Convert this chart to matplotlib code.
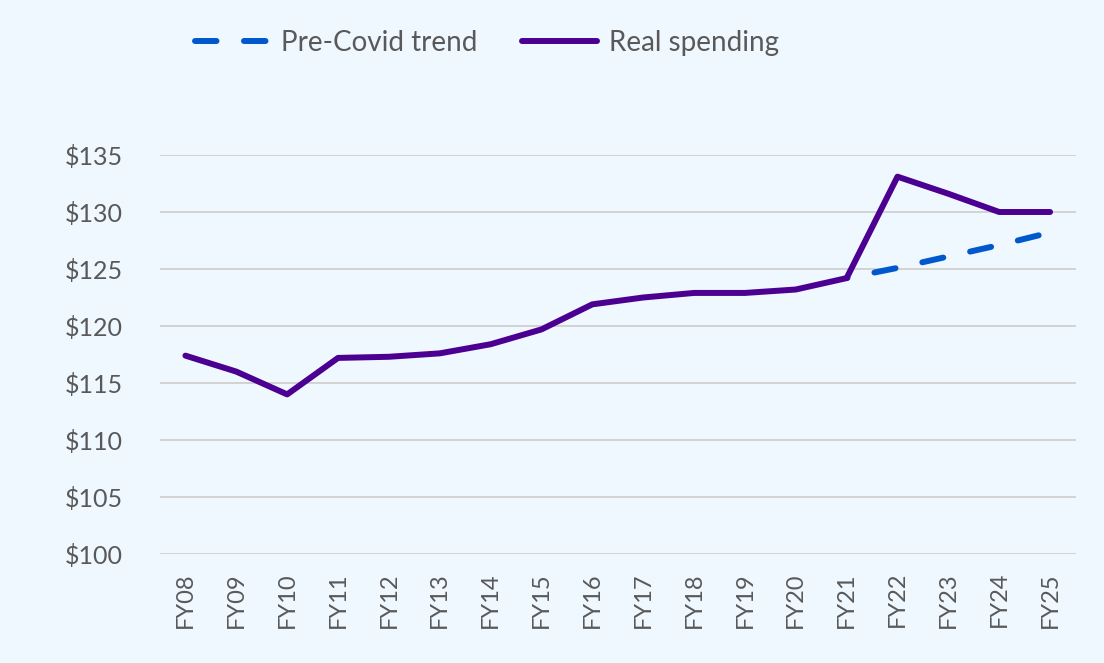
import matplotlib
matplotlib.use("Agg")
import matplotlib.pyplot as plt
from matplotlib.lines import Line2D

categories = ["FY08", "FY09", "FY10", "FY11", "FY12", "FY13", "FY14", "FY15", "FY16",
              "FY17", "FY18", "FY19", "FY20", "FY21", "FY22", "FY23", "FY24", "FY25"]
real_spending = [117.4, 116.0, 114.0, 117.2, 117.3, 117.6, 118.4, 119.7, 121.9,
                 122.5, 122.9, 122.9, 123.2, 124.2, 133.1, 131.6, 130.0, 130.0]
trend_categories = ["FY21", "FY22", "FY23", "FY24", "FY25"]
pre_covid_trend = [124.2, 125.1, 126.1, 127.1, 128.2]
y_ticks = [100, 105, 110, 115, 120, 125, 130, 135]

bg = "#EFF7FF"
text_color = "#595959"
trend_color = "#0058CC"
real_color = "#4B0092"
plt.rcParams['font.family'] = ['Lato', 'DejaVu Sans']

fig = plt.figure(figsize=(11.04, 6.63), dpi=100, facecolor=bg)
ax = fig.add_axes([160/1104, 1 - 554/663, (1075.5-160)/1104, (554-155)/663])
ax.set_facecolor(bg)

lw = 4.3
x = list(range(len(categories)))
xt = [categories.index(c) for c in trend_categories]
ax.plot(xt, pre_covid_trend, color=trend_color, lw=lw, linestyle=(3.45, (3.6, 4.6)),
        dash_capstyle="round", zorder=2)
ax.plot(x, real_spending, color=real_color, lw=lw, solid_capstyle="round",
        solid_joinstyle="round", zorder=3)

ax.set_xlim(-0.5, len(categories) - 0.5)
ax.set_ylim(100, 135)
ax.set_yticks(y_ticks)
ax.set_yticklabels([f"${v}" for v in y_ticks])
ax.set_xticks(x)
ax.set_xticklabels(categories, rotation=90)
ax.yaxis.grid(True, color="#D0D0D0", lw=1.3)
ax.set_axisbelow(True)
for s in ax.spines.values():
    s.set_visible(False)
ax.tick_params(axis="both", length=0, labelcolor=text_color)
ax.tick_params(axis="y", labelsize=18, pad=27)
ax.tick_params(axis="x", labelsize=17, pad=13)

handles = [Line2D([], [], color=trend_color, lw=lw, linestyle=(0, (3.6, 4.6)),
                  dash_capstyle="round"),
           Line2D([], [], color=real_color, lw=lw, solid_capstyle="round")]
leg = fig.legend(handles, ["Pre-Covid trend", "Real spending"], loc="center left",
                 bbox_to_anchor=(195/1104, 1 - 43/663), ncol=2, frameon=False,
                 fontsize=20, handlelength=2.7, columnspacing=1.62, handletextpad=0.4,
                 borderpad=0, borderaxespad=0)
for t in leg.get_texts():
    t.set_color(text_color)

fig.savefig("out.png", dpi=100, facecolor=bg)
